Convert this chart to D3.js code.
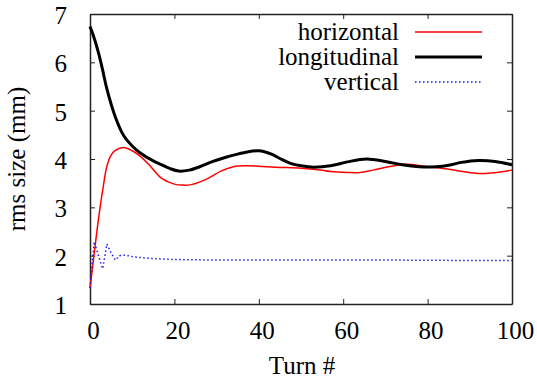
<!DOCTYPE html>
<html>
<head>
<meta charset="utf-8">
<script src="https://cdn.jsdelivr.net/npm/d3@7"></script>
<style>
  body { margin: 0; background: #fff; }
</style>
</head>
<body>
<div id="chart"></div>
<script>
// Series values (turn, rms size in mm)
const horizontal = [
  [0, 1.33], [1, 2.05], [2, 2.75], [3, 3.35], [4, 3.85], [5, 4.08], [6, 4.18],
  [8, 4.24], [10, 4.17], [12, 4.05], [14, 3.88], [17, 3.6], [20, 3.48], [22, 3.46],
  [24, 3.47], [28, 3.6], [31, 3.75], [34, 3.84], [37, 3.86], [40, 3.85], [44, 3.83],
  [50, 3.81], [54, 3.78], [57, 3.74], [61, 3.72], [64, 3.72], [67, 3.77], [72, 3.86],
  [75, 3.89], [80, 3.84], [85, 3.79], [89, 3.73], [92, 3.70], [95, 3.71], [100, 3.77]
];
const longitudinal = [
  [0, 6.74], [1, 6.5], [2, 6.2], [3, 5.84], [4, 5.45], [6, 4.87], [8, 4.48],
  [10, 4.27], [12, 4.12], [15, 3.96], [17, 3.88], [19, 3.8], [21, 3.75], [23.5, 3.77],
  [26, 3.84], [28.5, 3.93], [32, 4.03], [34, 4.08], [37, 4.14], [40, 4.17], [43, 4.1],
  [45, 4.01], [47.5, 3.91], [50, 3.86], [53, 3.83], [57, 3.86], [61, 3.94], [65.5, 4.0],
  [70, 3.95], [74, 3.88], [78, 3.84], [82, 3.84], [85, 3.87], [88, 3.93], [92, 3.97],
  [96, 3.95], [100, 3.88]
];
const vertical = [
  [0, 1.33], [1, 2.29], [2, 2.0], [3, 1.73], [4, 2.24], [5, 2.06], [6, 1.91],
  [7, 2.0], [8, 2.01], [9, 2.0], [10, 1.98], [12, 1.96], [15, 1.94], [20, 1.92],
  [30, 1.91], [50, 1.91], [70, 1.91], [90, 1.9], [100, 1.9]
];
const xTicks = [0, 20, 40, 60, 80, 100];
const yTicks = [1, 2, 3, 4, 5, 6, 7];
const seriesNames = ["horizontal", "longitudinal", "vertical"];

const width = 537, height = 379;
const margin = {top: 14, right: 25, bottom: 75, left: 90};
const serif = '"Liberation Serif"';

const svg = d3.select("#chart").append("svg")
    .attr("width", width)
    .attr("height", height)
    .attr("viewBox", [0, 0, width, height]);

const x = d3.scaleLinear().domain([0, 100]).range([margin.left, width - margin.right]);
const y = d3.scaleLinear().domain([1, 7]).range([height - margin.bottom, margin.top]);

const fontSize = 25;
const tickLen = 5;
const axisColor = "#222";

// axes: labels on bottom/left, mirrored ticks on top/right, all pointing inward
svg.append("g")
    .attr("transform", `translate(0,${y(1)})`)
    .call(d3.axisBottom(x).tickValues(xTicks).tickFormat(d3.format("d"))
      .tickSizeInner(-tickLen).tickSizeOuter(0).tickPadding(17))
    .call(g => g.selectAll(".tick text").attr("dx", 3));
svg.append("g")
    .attr("transform", `translate(0,${y(7)})`)
    .call(d3.axisTop(x).tickValues(xTicks).tickSizeInner(-tickLen).tickSizeOuter(0).tickFormat(""));
svg.append("g")
    .attr("transform", `translate(${x(0)},0)`)
    .call(d3.axisLeft(y).tickValues(yTicks).tickFormat(d3.format("d"))
      .tickSizeInner(-tickLen).tickSizeOuter(0).tickPadding(23))
    .call(g => g.selectAll(".tick text").attr("dy", "0.38em"));
svg.append("g")
    .attr("transform", `translate(${x(100)},0)`)
    .call(d3.axisRight(y).tickValues(yTicks).tickSizeInner(-tickLen).tickSizeOuter(0).tickFormat(""));

svg.selectAll(".tick text")
    .attr("fill", "#000")
    .style("font-family", serif)
    .style("font-size", fontSize + "px");
svg.selectAll(".domain").attr("stroke", axisColor).attr("stroke-width", 1.5);
svg.selectAll(".tick line").attr("stroke", axisColor).attr("stroke-width", 1);

// axis titles
svg.append("text")
    .attr("x", (x(0) + x(100)) / 2 + 1)
    .attr("y", 374)
    .attr("text-anchor", "middle")
    .style("font-family", serif)
    .style("font-size", fontSize + "px")
    .text("Turn #");
svg.append("text")
    .attr("transform", `translate(25,${(y(1) + y(7)) / 2}) rotate(-90)`)
    .attr("text-anchor", "middle")
    .style("font-family", serif)
    .style("font-size", fontSize + "px")
    .text("rms size (mm)");

// lines
const smooth = d3.line()
    .x(d => x(d[0]))
    .y(d => y(d[1]))
    .curve(d3.curveCatmullRom.alpha(0.5));
const straight = d3.line()
    .x(d => x(d[0]))
    .y(d => y(d[1]));

const styles = [
  {data: horizontal, color: "#ff0000", w: 1.5, dash: null, gen: smooth},
  {data: longitudinal, color: "#000000", w: 3, dash: null, gen: smooth},
  {data: vertical, color: "#1a1aff", w: 1.5, dash: "1.5,2.5", gen: straight}
];

const plot = svg.append("g");
styles.forEach(s => {
  plot.append("path")
      .datum(s.data)
      .attr("fill", "none")
      .attr("stroke", s.color)
      .attr("stroke-width", s.w)
      .attr("stroke-dasharray", s.dash)
      .attr("d", s.gen);
});

// legend
const legend = svg.append("g");
seriesNames.forEach((name, i) => {
  const ly = 32 + i * 25;
  legend.append("text")
      .attr("x", 399)
      .attr("y", ly + 8)
      .attr("text-anchor", "end")
      .style("font-family", serif)
      .style("font-size", fontSize + "px")
      .text(name);
  legend.append("line")
      .attr("x1", 415).attr("x2", 482)
      .attr("y1", ly).attr("y2", ly)
      .attr("stroke", styles[i].color)
      .attr("stroke-width", styles[i].w)
      .attr("stroke-dasharray", styles[i].dash);
});
</script>
</body>
</html>
